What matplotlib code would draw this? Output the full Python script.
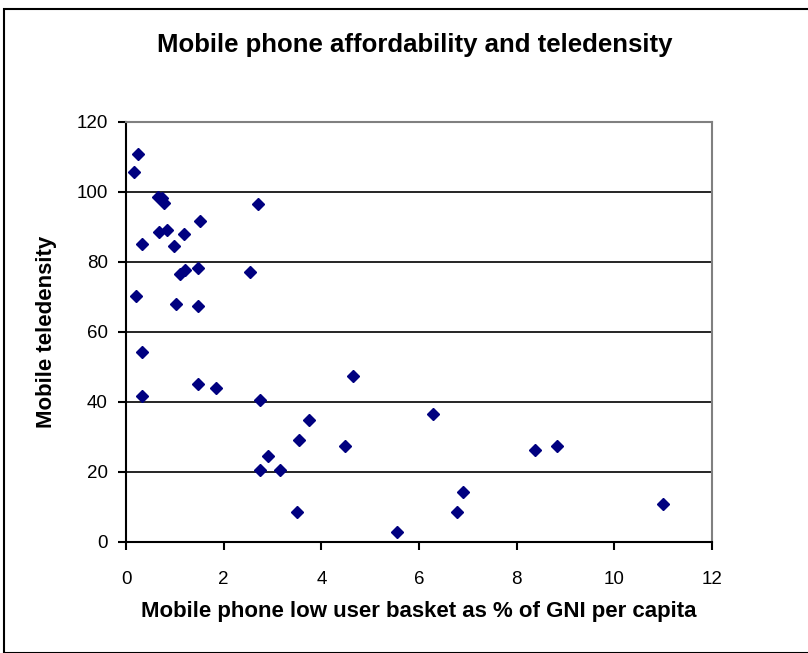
import matplotlib.pyplot as plt
from matplotlib.patches import Rectangle

# low user basket (% of GNI per capita) vs mobile teledensity
basket = [0.25, 0.16, 0.66, 0.73, 0.78, 2.70, 1.52, 0.68, 0.83, 1.18,
          0.33, 0.98, 1.10, 1.21, 1.48, 2.54, 0.20, 1.02, 1.47, 0.33,
          1.47, 1.84, 0.33, 2.74, 4.65, 6.29, 3.75, 3.55, 4.49, 2.90,
          2.74, 3.15, 6.91, 3.51, 6.78, 5.55, 8.37, 8.82, 10.99]
teledensity = [110.9, 105.7, 98.7, 98.3, 97.0, 96.6, 91.6, 88.6, 89.2, 88.0,
               85.1, 84.7, 76.7, 77.8, 78.3, 77.1, 70.4, 68.0, 67.4, 54.3,
               45.2, 44.0, 41.7, 40.7, 47.5, 36.7, 34.9, 29.2, 27.5, 24.7,
               20.7, 20.7, 14.3, 8.6, 8.6, 2.9, 26.4, 27.5, 10.9]

xticks = [0, 2, 4, 6, 8, 10, 12]
yticks = [0, 20, 40, 60, 80, 100, 120]

plt.rcParams['font.family'] = ['Liberation Sans', 'DejaVu Sans']

fig = plt.figure(figsize=(8.08, 6.53), dpi=100)

# outer chart frame
fig.patches.append(Rectangle((4/808, 0), 2, 1 - 9/653, transform=fig.transFigure,
                             fill=False, edgecolor='black', linewidth=1.5))

ax = fig.add_axes([126/808, 111/653, 586/808, 420/653])
ax.set_xlim(0, 12)
ax.set_ylim(0, 120)
ax.set_xticks(xticks)
ax.set_yticks(yticks)
ax.yaxis.grid(True, color='black', linewidth=1.2)
ax.set_axisbelow(True)

ax.plot(basket, teledensity, linestyle='none', marker='D', markersize=6.5,
        color='#000080', clip_on=False, zorder=3)

for side in ['top', 'right']:
    ax.spines[side].set_color('#808080')
    ax.spines[side].set_linewidth(1.5)
for side in ['left', 'bottom']:
    ax.spines[side].set_color('black')
    ax.spines[side].set_linewidth(1.5)

ax.tick_params(direction='out', length=6, width=1.5, labelsize=13.5)
ax.tick_params(axis='x', pad=15)
ax.tick_params(axis='y', pad=7)

fig.text(419/808, 1 - 612/653, 'Mobile phone low user basket as % of GNI per capita',
         ha='center', va='center', fontsize=16, fontweight='bold')
fig.text(47/808, 1 - 332/653, 'Mobile teledensity', rotation=90,
         ha='center', va='center', fontsize=16, fontweight='bold')
fig.text(415/808, 1 - 45/653, 'Mobile phone affordability and teledensity',
         ha='center', va='center', fontsize=18.5, fontweight='bold')

fig.savefig('out.png', dpi=100)
